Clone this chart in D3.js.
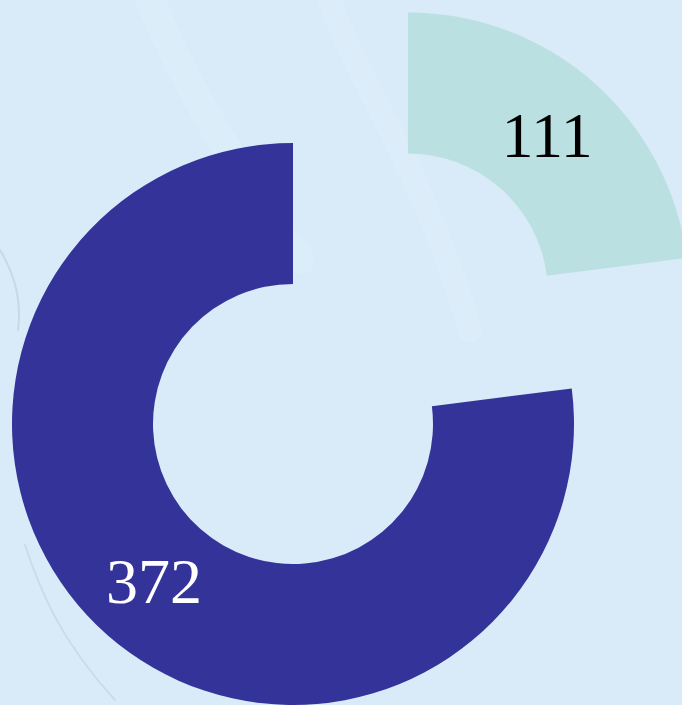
<!DOCTYPE html>
<html>
<head>
<meta charset="utf-8">
<script src="https://cdn.jsdelivr.net/npm/d3@7"></script>
<style>
html,body{margin:0;padding:0;background:#d9eaf8;}
svg{display:block;}
</style>
</head>
<body>
<svg id="chart" width="682" height="705"></svg>
<script>
const categories = ["A", "B"];
const values = [111, 372];
const colors = ["#bae0e1", "#343399"];
const labelColors = ["#000000", "#ffffff"];
const explode = [174, 0];

const width = 682, height = 705;
const cx = 293, cy = 424;
const outerR = 281, innerR = 140;

const svg = d3.select("#chart");
svg.append("rect").attr("width", width).attr("height", height).attr("fill", "#d9eaf8");

// faint watermark-like background strokes
const bg = svg.append("g").attr("fill", "none").attr("stroke-linecap", "round");
bg.append("path").attr("d", "M150,0 C200,120 260,200 300,260").attr("stroke", "#e0effb").attr("stroke-width", 30).attr("opacity", 0.5);
bg.append("path").attr("d", "M330,0 C360,90 420,160 470,330").attr("stroke", "#e0effb").attr("stroke-width", 24).attr("opacity", 0.45);
bg.append("path").attr("d", "M0,250 C15,275 22,300 18,330").attr("stroke", "#a9b9c6").attr("stroke-width", 2).attr("opacity", 0.35);
bg.append("path").attr("d", "M25,545 C40,590 60,640 115,700").attr("stroke", "#a9b9c6").attr("stroke-width", 2).attr("opacity", 0.3);

const pie = d3.pie().sort(null).value(d => d)(values);
const arc = d3.arc().innerRadius(innerR).outerRadius(outerR);

const g = svg.append("g").attr("transform", `translate(${cx},${cy})`);

const slices = g.selectAll("g.slice").data(pie).join("g").attr("class", "slice")
  .attr("transform", (d, i) => {
    const a = (d.startAngle + d.endAngle) / 2;
    return `translate(${Math.sin(a) * explode[i]},${-Math.cos(a) * explode[i]})`;
  });

slices.append("path").attr("d", arc).attr("fill", (d, i) => colors[i]);

slices.append("text")
  .attr("transform", d => `translate(${arc.centroid(d)})`)
  .attr("text-anchor", "middle")
  .attr("dominant-baseline", "central")
  .attr("font-family", "'Liberation Serif', 'Times New Roman', serif")
  .attr("font-size", 64)
  .attr("fill", (d, i) => labelColors[i])
  .text(d => d.data);
</script>
</body>
</html>
